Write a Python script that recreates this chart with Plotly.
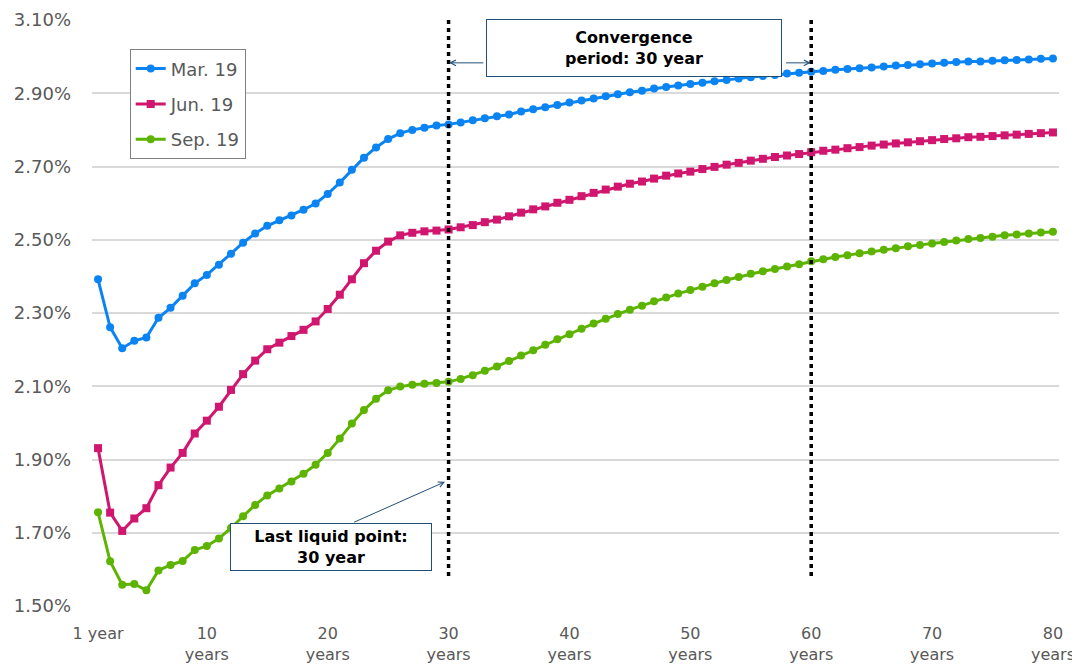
import plotly.graph_objects as go

years = list(range(1, 81))

mar19 = [2.392, 2.261, 2.204, 2.224, 2.233, 2.287, 2.314, 2.347, 2.381, 2.404,
         2.432, 2.462, 2.492, 2.517, 2.538, 2.553, 2.566, 2.582, 2.599, 2.625,
         2.656, 2.691, 2.724, 2.752, 2.775, 2.791, 2.800, 2.806, 2.812, 2.815,
         2.820, 2.826, 2.832, 2.837, 2.842, 2.850, 2.856, 2.862, 2.868, 2.875,
         2.880, 2.886, 2.892, 2.897, 2.903, 2.907, 2.913, 2.917, 2.921, 2.925,
         2.929, 2.933, 2.936, 2.940, 2.944, 2.947, 2.950, 2.954, 2.956, 2.959,
         2.961, 2.964, 2.966, 2.968, 2.970, 2.973, 2.976, 2.977, 2.979, 2.981,
         2.983, 2.985, 2.987, 2.987, 2.989, 2.990, 2.991, 2.992, 2.994, 2.995]

jun19 = [1.931, 1.755, 1.705, 1.739, 1.767, 1.830, 1.878, 1.918, 1.971, 2.006,
         2.044, 2.090, 2.133, 2.170, 2.201, 2.219, 2.237, 2.254, 2.277, 2.311,
         2.350, 2.392, 2.436, 2.470, 2.495, 2.512, 2.519, 2.523, 2.525, 2.528,
         2.534, 2.540, 2.548, 2.555, 2.564, 2.574, 2.583, 2.591, 2.601, 2.609,
         2.619, 2.628, 2.637, 2.645, 2.653, 2.659, 2.667, 2.675, 2.681, 2.686,
         2.693, 2.699, 2.705, 2.710, 2.716, 2.721, 2.726, 2.730, 2.734, 2.739,
         2.743, 2.746, 2.750, 2.753, 2.757, 2.760, 2.763, 2.766, 2.769, 2.772,
         2.775, 2.777, 2.780, 2.781, 2.783, 2.785, 2.787, 2.789, 2.791, 2.793]

sep19 = [1.756, 1.622, 1.558, 1.560, 1.543, 1.597, 1.612, 1.623, 1.653, 1.664,
         1.684, 1.713, 1.745, 1.776, 1.802, 1.821, 1.840, 1.861, 1.886, 1.918,
         1.957, 1.998, 2.035, 2.066, 2.089, 2.099, 2.104, 2.107, 2.109, 2.112,
         2.120, 2.130, 2.142, 2.154, 2.169, 2.184, 2.198, 2.213, 2.228, 2.242,
         2.257, 2.271, 2.284, 2.297, 2.309, 2.320, 2.332, 2.342, 2.353, 2.363,
         2.372, 2.381, 2.390, 2.398, 2.407, 2.414, 2.420, 2.427, 2.433, 2.441,
         2.447, 2.453, 2.458, 2.463, 2.468, 2.473, 2.477, 2.482, 2.486, 2.490,
         2.494, 2.498, 2.502, 2.505, 2.508, 2.512, 2.514, 2.517, 2.520, 2.522]

series_names = ["Mar. 19", "Jun. 19", "Sep. 19"]
x_tick_vals = [1, 10, 20, 30, 40, 50, 60, 70, 80]
x_tick_text = ["1 year", "10<br>years", "20<br>years", "30<br>years", "40<br>years",
               "50<br>years", "60<br>years", "70<br>years", "80<br>years"]
y_tick_vals = [1.5, 1.7, 1.9, 2.1, 2.3, 2.5, 2.7, 2.9, 3.1]
y_tick_text = ["1.50%", "1.70%", "1.90%", "2.10%", "2.30%", "2.50%", "2.70%", "2.90%", "3.10%"]

FONT = "DejaVu Sans, Verdana, sans-serif"
GREY = "#595959"

fig = go.Figure()
styles = [
    ("#0A84F2", "circle"),
    ("#D0166F", "square"),
    ("#5DB400", "circle"),
]
for i, (name, vals) in enumerate(zip(series_names, [mar19, jun19, sep19])):
    color, sym = styles[i]
    fig.add_trace(go.Scatter(
        x=years, y=vals, name=name, mode="lines+markers",
        line=dict(color=color, width=3),
        marker=dict(color=color, size=8, symbol=sym),
        legendgroup=name,
    ))

# vertical dotted lines
for xv in [30, 60]:
    fig.add_shape(type="line", x0=xv, x1=xv, y0=1.582, y1=3.105, xref="x", yref="y",
                  line=dict(color="black", width=3.5, dash="4px,4px"), layer="above")

BOXC = "#1F4E79"
fig.add_annotation(x=45.3, y=3.024, xref="x", yref="y", showarrow=False,
                   text="<b>Convergence<br>period: 30 year</b>",
                   font=dict(family=FONT, size=16, color="black"),
                   bgcolor="white", bordercolor=BOXC, borderwidth=1, borderpad=4,
                   width=286, height=48, align="center")
fig.add_annotation(x=30.05, y=2.983, ax=33.0, ay=2.983, xref="x", yref="y",
                   axref="x", ayref="y", text="", showarrow=True,
                   arrowhead=5, arrowsize=1.1, arrowwidth=1, arrowcolor=BOXC)
fig.add_annotation(x=59.95, y=2.983, ax=57.8, ay=2.983, xref="x", yref="y",
                   axref="x", ayref="y", text="", showarrow=True,
                   arrowhead=5, arrowsize=1.1, arrowwidth=1, arrowcolor=BOXC)

fig.add_annotation(x=29.7, y=1.839, ax=22.06, ay=1.727, xref="x", yref="y",
                   axref="x", ayref="y", text="", showarrow=True,
                   arrowhead=5, arrowsize=1.1, arrowwidth=1, arrowcolor=BOXC)
fig.add_annotation(x=20.24, y=1.662, xref="x", yref="y", showarrow=False,
                   text="<b>Last liquid point:<br>30 year</b>",
                   font=dict(family=FONT, size=16, color="black"),
                   bgcolor="white", bordercolor=BOXC, borderwidth=1, borderpad=4,
                   width=192, height=38, align="center")

# page body has an 8px default margin, so the figure is sized to fit the 1080x671 window
fig.update_layout(
    width=1072, height=663,
    margin=dict(l=84, r=21, t=12, b=65),
    plot_bgcolor="white", paper_bgcolor="white",
    font=dict(family=FONT, color=GREY),
    showlegend=True,
    legend=dict(x=0.039, y=0.95, xanchor="left", yanchor="top",
                bordercolor="#7F7F7F", borderwidth=1, bgcolor="white",
                font=dict(family=FONT, size=18, color=GREY),
                tracegroupgap=9, itemwidth=30),
    xaxis=dict(range=[0.5, 80.5], tickmode="array", tickvals=x_tick_vals,
               ticktext=x_tick_text, showgrid=False, zeroline=False,
               showline=False, ticks="", ticklabelstandoff=16, automargin=False,
               ticklabeloverflow="allow",
               tickfont=dict(family=FONT, size=16, color=GREY)),
    yaxis=dict(range=[1.5, 3.1], tickmode="array", tickvals=y_tick_vals,
               ticktext=y_tick_text, showgrid=True, gridcolor="#D9D9D9",
               gridwidth=1.5, zeroline=False, showline=False, ticks="",
               ticklabelstandoff=20, automargin=False, ticklabeloverflow="allow",
               tickfont=dict(family=FONT, size=18, color=GREY)),
)

fig.write_html("out.html")
